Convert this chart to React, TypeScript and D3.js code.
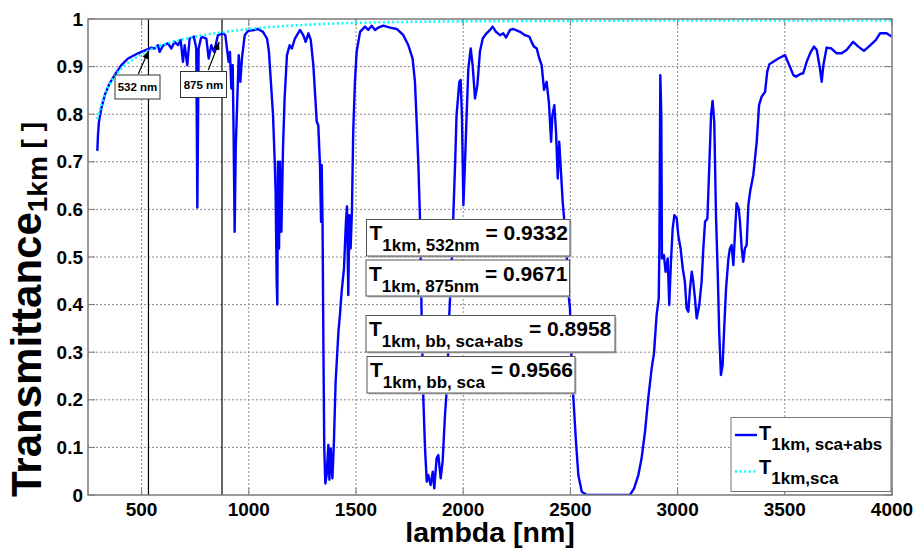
import React from 'react';
import * as d3 from 'd3';

// ---- data ----
const absLambda = [
  293.5, 296.6, 301, 312, 328, 351, 374, 405.5, 436.6, 483, 527, 545, 561, 576.5, 584, 600, 623, 639, 654, 670, 682, 693, 701, 713, 724, 744, 755, 760, 766, 778.6, 802, 813, 825, 838, 856, 880, 890.5, 900, 906, 912, 918.5, 925, 929, 934, 939, 945, 953, 960.5, 968, 981, 996, 1027, 1043, 1066, 1085, 1094, 1102, 1113, 1121, 1125, 1130, 1133, 1136, 1141, 1145.5, 1152, 1159.5, 1167, 1178, 1190.6, 1201, 1215, 1239, 1254, 1265, 1278, 1289, 1301, 1317, 1324, 1332, 1337, 1340, 1344, 1348, 1352, 1357, 1363, 1371, 1376, 1382, 1390, 1397, 1405, 1418, 1425, 1433, 1444, 1453, 1458, 1464, 1469, 1475, 1481, 1487, 1495, 1503, 1519, 1542, 1557, 1573, 1589, 1604, 1627, 1659, 1690, 1721, 1744, 1764, 1775, 1783, 1791, 1798, 1806, 1814, 1822, 1830, 1837, 1848, 1858, 1865, 1876, 1884, 1895, 1904, 1915, 1926, 1935, 1946, 1954, 1962, 1969, 1982, 1988, 1994, 2001, 2008, 2016, 2024, 2035, 2044, 2055, 2066, 2078, 2091, 2109, 2125, 2137, 2153, 2172, 2187, 2200, 2218, 2234, 2265, 2288, 2308, 2319, 2330, 2343, 2355, 2366, 2377, 2389, 2400, 2410, 2416, 2425, 2433, 2441, 2448, 2456, 2464, 2472, 2483, 2490, 2498, 2506, 2514, 2526, 2537, 2553, 2576, 2700, 2778, 2797, 2817, 2832, 2848, 2863, 2879, 2890, 2902, 2912, 2915, 2919.4, 2924, 2927, 2936, 2944, 2954, 2961, 2969, 2977, 2985, 2996, 3003, 3014, 3024, 3034, 3042, 3050, 3058, 3066, 3073, 3081, 3089, 3101, 3112, 3120, 3128, 3139, 3148, 3156, 3163, 3171, 3179, 3187, 3194, 3202, 3210, 3218, 3226, 3237, 3244, 3252, 3260, 3268, 3275, 3285, 3291, 3299, 3306, 3314, 3322, 3330, 3338, 3353, 3369, 3380, 3392, 3408, 3418, 3428, 3446, 3470, 3501, 3521, 3540, 3552, 3571, 3586, 3602, 3621, 3636, 3649, 3664, 3672, 3680, 3695, 3718, 3742, 3765, 3788, 3819, 3843, 3869, 3897, 3925, 3944, 3975, 3998
];
const absT = [
  0.723, 0.756, 0.784, 0.812, 0.840, 0.865, 0.882, 0.903, 0.917, 0.928, 0.936, 0.940, 0.938, 0.945, 0.931, 0.944, 0.949, 0.938, 0.952, 0.945, 0.956, 0.910, 0.945, 0.903, 0.959, 0.963, 0.938, 0.604, 0.938, 0.963, 0.959, 0.917, 0.945, 0.931, 0.966, 0.970, 0.966, 0.931, 0.910, 0.931, 0.854, 0.903, 0.763, 0.553, 0.728, 0.812, 0.924, 0.868, 0.917, 0.966, 0.975, 0.977, 0.979, 0.973, 0.959, 0.931, 0.875, 0.798, 0.700, 0.637, 0.448, 0.400, 0.700, 0.518, 0.700, 0.553, 0.728, 0.833, 0.924, 0.945, 0.938, 0.959, 0.977, 0.966, 0.952, 0.970, 0.956, 0.903, 0.784, 0.777, 0.693, 0.574, 0.693, 0.574, 0.308, 0.098, 0.024, 0.042, 0.105, 0.032, 0.098, 0.035, 0.112, 0.238, 0.343, 0.378, 0.427, 0.476, 0.574, 0.606, 0.420, 0.588, 0.518, 0.595, 0.763, 0.868, 0.931, 0.973, 0.984, 0.977, 0.986, 0.977, 0.982, 0.986, 0.982, 0.979, 0.966, 0.945, 0.917, 0.868, 0.784, 0.693, 0.588, 0.378, 0.203, 0.098, 0.028, 0.042, 0.021, 0.049, 0.014, 0.077, 0.084, 0.035, 0.070, 0.168, 0.238, 0.378, 0.483, 0.588, 0.693, 0.798, 0.868, 0.872, 0.798, 0.609, 0.693, 0.798, 0.896, 0.938, 0.903, 0.833, 0.861, 0.931, 0.959, 0.970, 0.977, 0.984, 0.973, 0.966, 0.970, 0.961, 0.977, 0.979, 0.973, 0.966, 0.963, 0.952, 0.942, 0.938, 0.917, 0.903, 0.851, 0.868, 0.823, 0.742, 0.798, 0.819, 0.763, 0.665, 0.742, 0.679, 0.616, 0.574, 0.504, 0.427, 0.392, 0.273, 0.203, 0.112, 0.042, 0.007, 0.000, 0.000, 0.000, 0.014, 0.042, 0.077, 0.133, 0.203, 0.266, 0.298, 0.378, 0.413, 0.518, 0.882, 0.798, 0.497, 0.504, 0.469, 0.497, 0.399, 0.490, 0.560, 0.588, 0.581, 0.546, 0.518, 0.476, 0.448, 0.392, 0.385, 0.434, 0.469, 0.448, 0.413, 0.371, 0.399, 0.448, 0.518, 0.574, 0.581, 0.693, 0.798, 0.828, 0.784, 0.588, 0.469, 0.343, 0.252, 0.273, 0.357, 0.434, 0.497, 0.518, 0.525, 0.483, 0.553, 0.613, 0.602, 0.574, 0.518, 0.490, 0.518, 0.525, 0.609, 0.637, 0.672, 0.742, 0.819, 0.837, 0.847, 0.889, 0.905, 0.910, 0.917, 0.924, 0.903, 0.882, 0.879, 0.884, 0.886, 0.910, 0.931, 0.942, 0.935, 0.896, 0.868, 0.903, 0.940, 0.938, 0.928, 0.928, 0.935, 0.952, 0.942, 0.933, 0.944, 0.956, 0.970, 0.970, 0.963
];
const scaLambda = [293, 300, 310, 325, 350, 375, 400, 450, 500, 532, 600, 700, 800, 875, 1000, 1200, 1500, 2000, 2500, 3000, 4000];
const scaT = [0.790, 0.800, 0.815, 0.838, 0.862, 0.880, 0.893, 0.912, 0.926, 0.934, 0.946, 0.958, 0.967, 0.972, 0.979, 0.986, 0.992, 0.995, 0.996, 0.997, 0.997];

const xTicks = [500, 1000, 1500, 2000, 2500, 3000, 3500, 4000];
const xTickLabels = ['500', '1000', '1500', '2000', '2500', '3000', '3500', '4000'];
const yTicks = [0, 0.1, 0.2, 0.3, 0.4, 0.5, 0.6, 0.7, 0.8, 0.9, 1];
const yTickLabels = ['0', '0.1', '0.2', '0.3', '0.4', '0.5', '0.6', '0.7', '0.8', '0.9', '1'];

const markerLambda = [532, 875];
const markerLabels = ['532 nm', '875 nm'];
const markerHeadLambda = [532, 862];
const markerHeadT = [0.933, 0.952];

const annotSubs = ['1km, 532nm', '1km, 875nm', '1km, bb, sca+abs', '1km, bb, sca'];
const annotValues = ['0.9332', '0.9671', '0.8958', '0.9566'];
const legendSubs = ['1km, sca+abs', '1km,sca'];

// ---- layout ----
const W = 916, H = 548;
const L = 88, R = 892, T = 19, B = 495;
const FONT = 'Arial, "Liberation Sans", Helvetica, sans-serif';
const annotBoxes = [
  { x: 366.5, y: 219.5, w: 203.5, h: 36.5, base: 239.5 },
  { x: 366, y: 260, w: 203.5, h: 36, base: 280.5 },
  { x: 366, y: 315.5, w: 249, h: 36.5, base: 336 },
  { x: 367, y: 356.5, w: 208, h: 36.5, base: 376.5 },
];
const markerBoxes = [
  { x: 115, y: 75, w: 45, h: 24, tx: 138.3, ty: 74 },
  { x: 180.5, y: 71.5, w: 46, h: 26, tx: 208.3, ty: 70 },
];

export default function App() {
  const x = d3.scaleLinear().domain([250, 4000]).range([L, R]);
  const y = d3.scaleLinear().domain([0, 1]).range([B, T]);
  const absData: [number, number][] = absLambda.map((l, i) => [l, absT[i]]);
  const scaData: [number, number][] = scaLambda.map((l, i) => [l, scaT[i]]);
  const line = d3.line<[number, number]>().x(d => x(d[0])).y(d => y(d[1]));
  const scaLine = d3.line<[number, number]>().x(d => x(d[0])).y(d => y(d[1])).curve(d3.curveMonotoneX);

  const gridColor = '#8a8a8a';
  const axisColor = '#7a7a7a';
  const tickLen = 7;

  return (
    <svg width={W} height={H} style={{ position: 'absolute', left: 0, top: 0, background: '#fff' }} fontFamily={FONT}>
      <defs>
        <marker id="ah" viewBox="0 0 10 10" refX="10" refY="5" markerWidth="8" markerHeight="8" orient="auto" markerUnits="userSpaceOnUse">
          <path d="M0,1 L10,5 L0,9 z" fill="#000" />
        </marker>
        <clipPath id="plotclip"><rect x={L} y={T - 2} width={R - L} height={B - T + 2} /></clipPath>
      </defs>
      <rect x={0} y={0} width={W} height={H} fill="#fff" />
      {/* grid */}
      {xTicks.filter(t => t < 4000).map(t => (
        <line key={'gx' + t} x1={x(t)} x2={x(t)} y1={T} y2={B} stroke={gridColor} strokeWidth={1} strokeDasharray="2,2" />
      ))}
      {yTicks.filter(t => t > 0 && t < 1).map(t => (
        <line key={'gy' + t} x1={L} x2={R} y1={y(t)} y2={y(t)} stroke={gridColor} strokeWidth={1} strokeDasharray="2,2" />
      ))}
      {/* ticks inside */}
      {xTicks.map(t => (
        <g key={'tx' + t}>
          <line x1={x(t)} x2={x(t)} y1={B} y2={B - tickLen} stroke={axisColor} />
          <line x1={x(t)} x2={x(t)} y1={T} y2={T + tickLen} stroke={axisColor} />
        </g>
      ))}
      {yTicks.map(t => (
        <g key={'ty' + t}>
          <line x1={L} x2={L + tickLen} y1={y(t)} y2={y(t)} stroke={axisColor} />
          <line x1={R} x2={R - tickLen} y1={y(t)} y2={y(t)} stroke={axisColor} />
        </g>
      ))}
      {/* marker vertical lines */}
      {markerLambda.map(l => (
        <line key={'ml' + l} x1={x(l)} x2={x(l)} y1={T} y2={B} stroke="#000" strokeWidth={1.2} />
      ))}
      {/* series */}
      <g clipPath="url(#plotclip)">
        <path d={line(absData) || ''} fill="none" stroke="#0000ff" strokeWidth={2.4} strokeLinejoin="round" />
        <path d={scaLine(scaData) || ''} fill="none" stroke="#00ffff" strokeWidth={2.6} strokeDasharray="2,2.6" />
      </g>
      {/* axes box */}
      <rect x={L} y={T} width={R - L} height={B - T} fill="none" stroke={axisColor} strokeWidth={1.5} />
      {/* tick labels */}
      {xTicks.map((t, i) => (
        <text key={'xl' + t} x={x(t)} y={516} textAnchor="middle" fontSize={19} fontWeight="bold">{xTickLabels[i]}</text>
      ))}
      {yTicks.map((t, i) => (
        <text key={'yl' + t} x={83} y={y(t)} textAnchor="end" dominantBaseline="central" fontSize={19} fontWeight="bold">{yTickLabels[i]}</text>
      ))}
      {/* axis titles */}
      <text x={(L + R) / 2} y={542} textAnchor="middle" fontSize={28.5} fontWeight="bold">lambda [nm]</text>
      <text transform={`translate(41,497) rotate(-90)`} fontWeight="bold" style={{ whiteSpace: 'pre' }}>
        <tspan fontSize={42}>Transmittance</tspan>
        <tspan fontSize={28} dy={6}>1km</tspan>
        <tspan fontSize={28} dy={-6}> [ ]</tspan>
      </text>
      {/* marker labels with arrows */}
      {markerBoxes.map((b, i) => (
        <g key={'mb' + i}>
          <line x1={b.tx} y1={b.ty} x2={x(markerHeadLambda[i])} y2={y(markerHeadT[i])} stroke="#000" strokeWidth={1.2} markerEnd="url(#ah)" />
          <rect x={b.x} y={b.y} width={b.w} height={b.h} fill="#fff" stroke="#333" strokeWidth={1} />
          <text x={b.x + b.w / 2} y={b.y + b.h / 2 + 4} textAnchor="middle" fontSize={11.5} fontWeight="bold">{markerLabels[i]}</text>
        </g>
      ))}
      {/* annotation boxes */}
      {annotBoxes.map((b, i) => (
        <g key={'ab' + i}>
          <rect x={b.x + 1.5} y={b.y + 1.5} width={b.w} height={b.h} fill="#bbb" />
          <rect x={b.x} y={b.y} width={b.w} height={b.h} fill="#fff" stroke="#555" strokeWidth={1} />
          <text x={b.x + 3} y={b.base} fontWeight="bold" style={{ whiteSpace: 'pre' }}>
            <tspan fontSize={21}>T</tspan>
            <tspan fontSize={17} dy={11}>{annotSubs[i]}</tspan>
            <tspan fontSize={21} dy={-11}>{' = ' + annotValues[i]}</tspan>
          </text>
        </g>
      ))}
      {/* legend */}
      <g>
        <rect x={731} y={417.5} width={160} height={74} fill="#fff" stroke="#777" strokeWidth={1} />
        <line x1={735} x2={757} y1={435} y2={435} stroke="#0000ff" strokeWidth={2.4} />
        <line x1={735} x2={757} y1={471.5} y2={471.5} stroke="#00ffff" strokeWidth={2.6} strokeDasharray="2,2.6" />
        {legendSubs.map((s, i) => (
          <text key={'lg' + i} x={759} y={i === 0 ? 439.5 : 473.5} fontWeight="bold" style={{ whiteSpace: 'pre' }}>
            <tspan fontSize={20}>T</tspan>
            <tspan fontSize={17} dy={10.5}>{s}</tspan>
          </text>
        ))}
      </g>
    </svg>
  );
}
